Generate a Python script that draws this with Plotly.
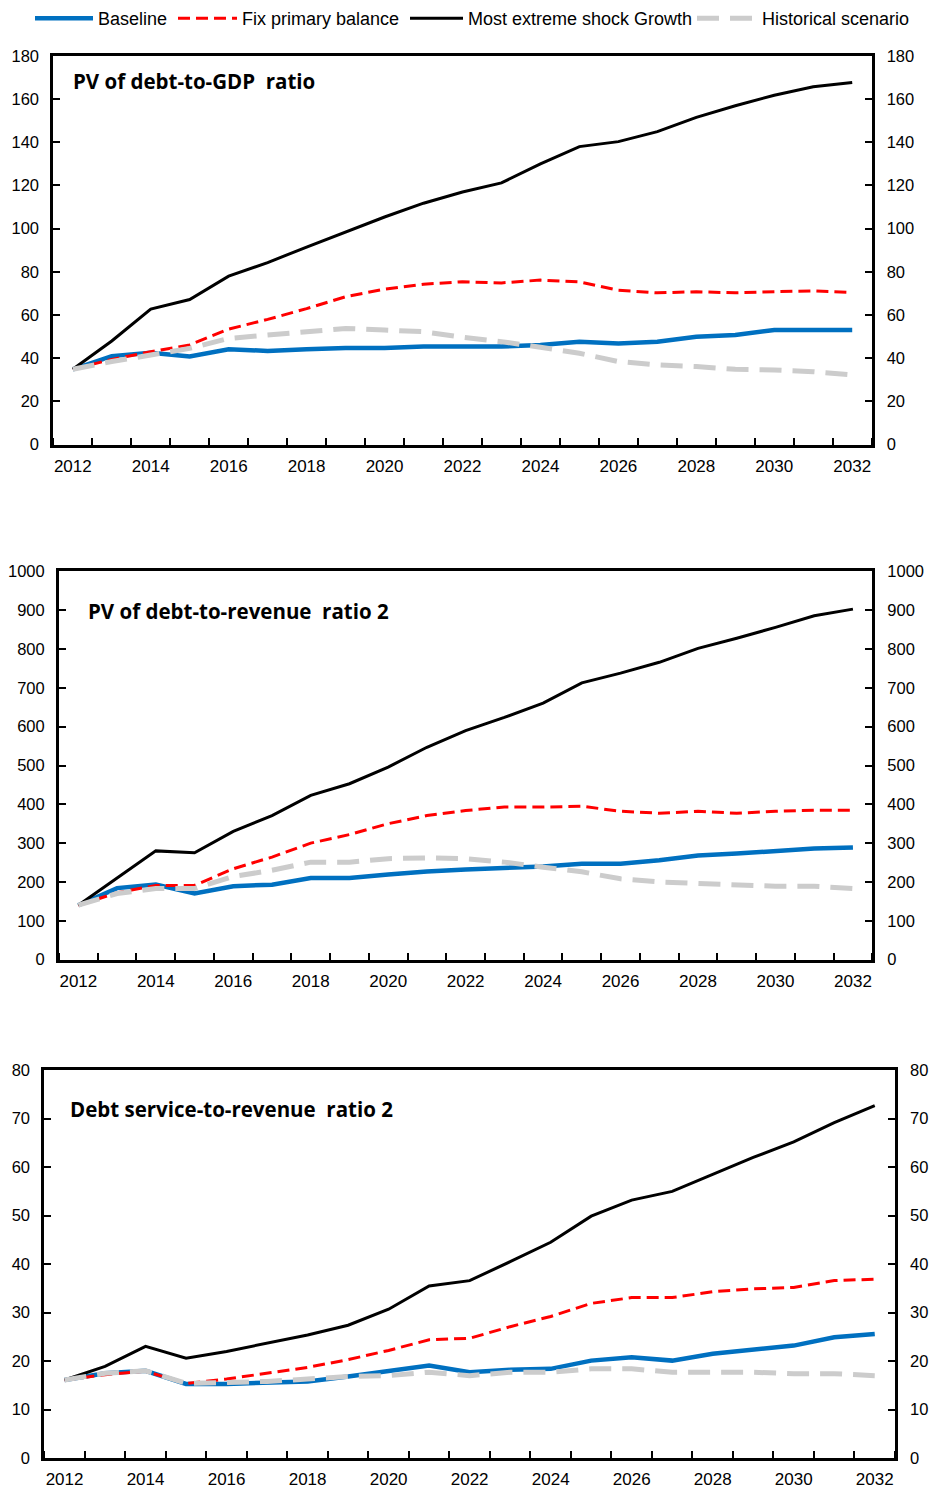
import plotly.graph_objects as go

W, H = 934, 1492

years = list(range(2012, 2033))

# PV of debt-to-GDP ratio
gdp_baseline = [34.9, 41.0, 42.6, 40.8, 44.2, 43.4, 44.2, 44.8, 44.8, 45.4, 45.4,
                45.4, 46.2, 47.7, 46.9, 47.7, 50.0, 50.8, 53.1, 53.1, 53.1]
gdp_fix_pb = [34.9, 39.5, 43.0, 46.2, 53.5, 58.0, 63.0, 68.5, 72.0, 74.3, 75.4,
              74.9, 76.2, 75.4, 71.5, 70.3, 70.8, 70.3, 70.8, 71.2, 70.5]
gdp_extreme = [34.9, 48.0, 62.8, 67.2, 78.0, 84.3, 91.5, 98.5, 105.4, 111.8, 117.0,
               121.2, 130.0, 138.0, 140.3, 144.9, 151.5, 156.9, 161.8, 165.7, 167.7]
gdp_hist = [34.9, 38.5, 41.5, 44.6, 49.2, 50.6, 52.3, 53.8, 53.1, 52.3, 49.7,
            47.7, 45.1, 42.3, 38.5, 36.9, 36.2, 34.9, 34.6, 33.8, 32.3]

# PV of debt-to-revenue ratio
rev_baseline = [140, 184, 193, 170, 189, 193, 210, 210, 219, 227, 232,
                236, 240, 247, 247, 256, 268, 273, 280, 286, 289]
rev_fix_pb = [140, 172, 191, 191, 234, 264, 300, 322, 350, 371, 384,
              393, 393, 395, 382, 377, 382, 377, 382, 385, 385]
rev_extreme = [140, 210, 280, 275, 330, 371, 423, 453, 496, 547, 590,
               624, 661, 713, 738, 766, 802, 828, 856, 886, 903]
rev_hist = [140, 170, 183, 183, 214, 230, 251, 251, 260, 262, 260,
            251, 238, 226, 208, 200, 196, 191, 189, 189, 183]

# Debt service-to-revenue ratio
ds_baseline = [16.1, 17.5, 18.0, 15.3, 15.3, 15.5, 15.8, 16.8, 17.9, 19.1, 17.7,
               18.2, 18.4, 20.1, 20.8, 20.1, 21.5, 22.4, 23.2, 24.9, 25.6]
ds_fix_pb = [16.1, 17.2, 17.9, 15.4, 16.3, 17.5, 18.7, 20.3, 22.2, 24.4, 24.7,
             27.1, 29.2, 31.9, 33.1, 33.1, 34.3, 34.9, 35.2, 36.6, 36.9]
ds_extreme = [16.1, 18.9, 23.05, 20.6, 22.0, 23.7, 25.4, 27.4, 30.7, 35.5, 36.6,
              40.5, 44.5, 49.9, 53.2, 55.0, 58.5, 62.0, 65.2, 69.2, 72.7]
ds_hist = [16.1, 17.5, 18.0, 15.4, 15.6, 15.8, 16.3, 16.8, 17.0, 17.7, 17.0,
           17.7, 17.7, 18.4, 18.4, 17.7, 17.7, 17.7, 17.4, 17.4, 17.0]

series_names = ["Baseline", "Fix primary balance", "Most extreme shock Growth", "Historical scenario"]
panel_titles = ["PV of debt-to-GDP\u00a0 ratio",
                "PV of debt-to-revenue\u00a0 ratio 2",
                "Debt service-to-revenue\u00a0 ratio 2"]
y_ranges = [(0, 180, 20), (0, 1000, 100), (0, 80, 10)]

panels = [
    [gdp_baseline, gdp_fix_pb, gdp_extreme, gdp_hist],
    [rev_baseline, rev_fix_pb, rev_extreme, rev_hist],
    [ds_baseline, ds_fix_pb, ds_extreme, ds_hist],
]

line_styles = [
    dict(color="#0070C0", width=4.5),
    dict(color="#FF0000", width=3, dash="12px,6px"),
    dict(color="#000000", width=3),
    dict(color="#CCCCCC", width=5, dash="22px,11px"),
]
legend_ids = ["legend", "legend2", "legend3", "legend4"]
legend_x_px = [30, 173, 405, 692]
legend_itemwidth = [58, 59, 53, 60]


def vy(px):
    """Vertical page position -> position inside the figure."""
    return px * 1508 / 1492 - 8


# plot-area boxes in pixels: left, right, top, bottom
boxes = [
    (53.3, 871.7, 49.0, 440.0),
    (59.0, 872.3, 567.5, 957.7),
    (44.3, 895.0, 1069.0, 1459.0),
]
title_pos = [(71, 74.5), (86, 607), (67.7, 1108.3)]
legend_y_px = 11

tick_font = dict(family="Liberation Sans, Arial, sans-serif", size=16.5, color="#000000")

fig = go.Figure()
layout = dict(
    width=W, height=H,
    margin=dict(l=0, r=0, t=0, b=0),
    paper_bgcolor="white", plot_bgcolor="white",
    font=dict(family="Liberation Sans, Arial, sans-serif", color="#000000"),
    annotations=[],
)

for p, (data, (lo, hi, step)) in enumerate(zip(panels, y_ranges)):
    left, right, top, bottom = boxes[p]
    xname = "x" if p == 0 else f"x{p + 1}"
    yname = "y" if p == 0 else f"y{p + 1}"
    yr_idx = p + 4
    for i in range(4):
        fig.add_trace(go.Scatter(
            x=years, y=data[i], mode="lines", name=series_names[i],
            line=line_styles[i], xaxis=xname, yaxis=yname,
            showlegend=(p == 0), legend=legend_ids[i],
            hoverinfo="skip",
        ))
    # right-hand scale mirrors the left one
    fig.add_trace(go.Scatter(
        x=years, y=data[0], mode="lines", line=dict(width=0, color="rgba(0,0,0,0)"),
        xaxis=xname, yaxis=f"y{yr_idx}", showlegend=False, hoverinfo="skip",
    ))
    xdom = [left / W, right / W]
    ydom = [1 - vy(bottom) / H, 1 - vy(top) / H]
    xkey = "xaxis" if p == 0 else f"xaxis{p + 1}"
    ykey = "yaxis" if p == 0 else f"yaxis{p + 1}"
    layout[xkey] = dict(
        domain=xdom, anchor=yname, range=[2011.5, 2032.5],
        tickmode="array", tickvals=years[::2], ticktext=[str(v) for v in years[::2]],
        ticks="", showgrid=False, zeroline=False,
        showline=True, linecolor="black", linewidth=3, mirror=True,
        tickfont=dict(family="Liberation Sans, Arial, sans-serif", size=17, color="#000"),
        ticklabelstandoff=4,
        minor=dict(tick0=2011.5, dtick=1, ticks="inside", ticklen=7, tickwidth=2,
                   tickcolor="black", showgrid=False),
    )
    layout[ykey] = dict(
        domain=ydom, anchor=xname, range=[lo, hi], dtick=step, tick0=0,
        ticks="inside", ticklen=7, tickwidth=2, tickcolor="black",
        showgrid=False, zeroline=False,
        showline=True, linecolor="black", linewidth=3, mirror=True,
        tickfont=tick_font, ticklabelstandoff=8,
    )
    layout[f"yaxis{yr_idx}"] = dict(
        overlaying=yname, anchor=xname, side="right", range=[lo, hi], dtick=step, tick0=0,
        ticks="inside", ticklen=7, tickwidth=2, tickcolor="black",
        showgrid=False, zeroline=False, showline=False,
        tickfont=tick_font, ticklabelstandoff=14,
    )
    tx, ty = title_pos[p]
    layout["annotations"].append(dict(
        text=panel_titles[p], xref="paper", yref="paper",
        x=tx / W, y=1 - vy(ty) / H, xanchor="left", yanchor="middle", showarrow=False,
        font=dict(family="Open Sans, sans-serif", size=20.5, weight="bold", color="#000"),
    ))

for k, lid in enumerate(legend_ids):
    layout[lid] = dict(
        x=legend_x_px[k] / W, y=1 - vy(legend_y_px) / H, xanchor="left", yanchor="middle",
        orientation="h", bgcolor="rgba(0,0,0,0)", borderwidth=0,
        itemwidth=legend_itemwidth[k],
        font=dict(family="Liberation Sans, Arial, sans-serif", size=18, color="#000"),
        tracegroupgap=0,
    )

fig.update_layout(**layout)
fig.write_html("out.html")
